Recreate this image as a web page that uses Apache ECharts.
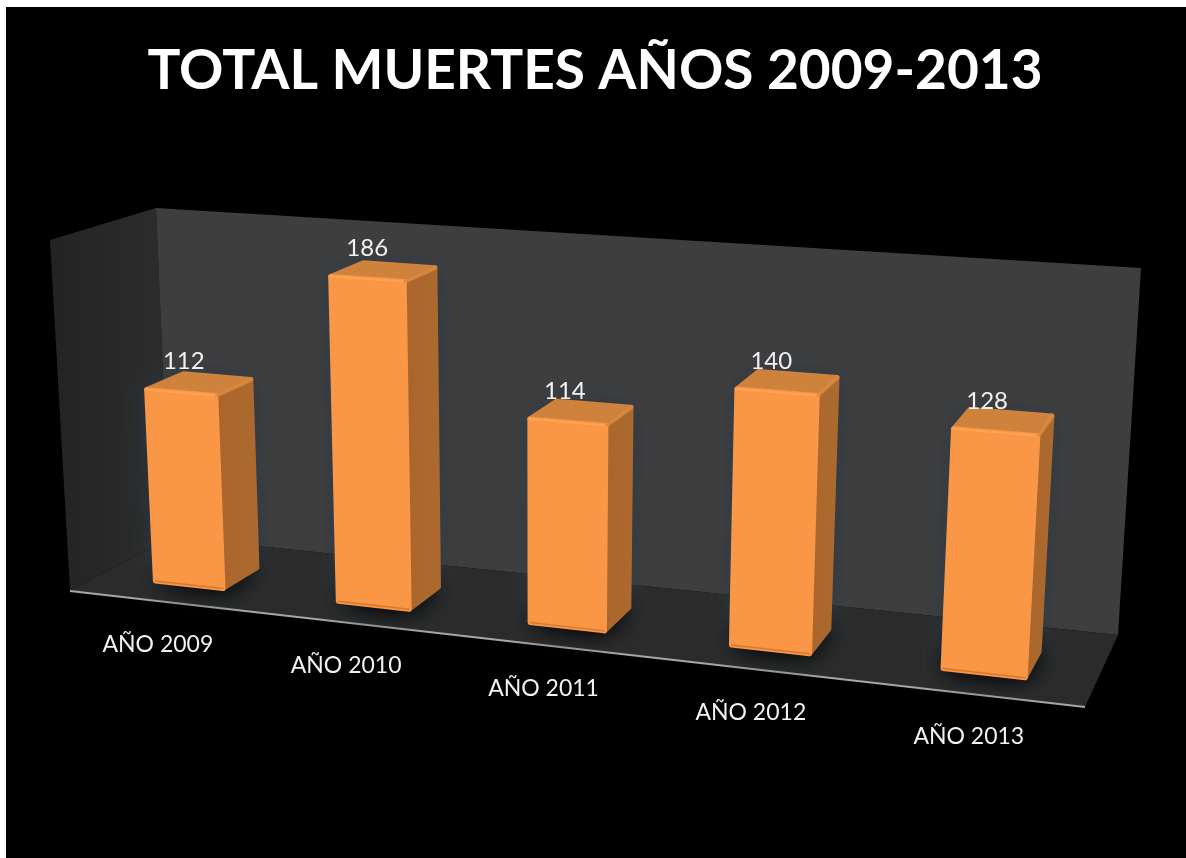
<!DOCTYPE html>
<html>
<head>
<meta charset="utf-8">
<title>Total muertes</title>
<script src="https://cdn.jsdelivr.net/npm/echarts@6/dist/echarts.min.js"></script>
<style>
    html, body { margin: 0; background: #fff; }
    #plate { position: absolute; left: 6px; top: 7px; right: 0; bottom: 0; width: 1180px; height: 851px; background: #000; }
    #chart { position: absolute; left: 0; top: 0; width: 1186px; height: 858px; }
</style>
</head>
<body>
<div id="plate"></div>
<div id="chart"></div>
<script>
const titleText = 'TOTAL MUERTES AÑOS 2009-2013';
const categories = ['AÑO 2009', 'AÑO 2010', 'AÑO 2011', 'AÑO 2012', 'AÑO 2013'];
const deaths = [112, 186, 114, 140, 128];
const axisMax = 203;

const fontFamily = 'Lato, "Open Sans", sans-serif';

// corners of the drawn box, [x, y] on the page. F = front, B = back, B/T = bottom/top
const box = {
    fbl: [70, 591], fbr: [1085, 707], ftl: [50, 240], ftr: [1108, 312],
    bbl: [170, 537], bbr: [1118, 635], btl: [156, 208], btr: [1141, 268]
};
const perspective = 1.13;   // how much the far left is squeezed
const barBand = 0.375;      // bar width as part of the category band
const barFront = 0.3, barBack = 0.67;   // depth of the bars inside the box

function mix(a, b, t) {
    return [a[0] + (b[0] - a[0]) * t, a[1] + (b[1] - a[1]) * t];
}
// u along the categories, v up the value axis, w into the depth, all 0..1
function project(u, v, w) {
    const s = u / (u + perspective * (1 - u));
    const front = mix(mix(box.fbl, box.fbr, s), mix(box.ftl, box.ftr, s), v);
    const back = mix(mix(box.bbl, box.bbr, s), mix(box.btl, box.btr, s), v);
    return mix(front, back, w);
}

function renderWalls() {
    const quad = function (pts, fill) {
        return { type: 'polygon', shape: { points: pts }, style: { fill: fill } };
    };
    return {
        type: 'group',
        children: [
            quad([project(0, 0, 0), project(0, 1, 0), project(0, 1, 1), project(0, 0, 1)],
                new echarts.graphic.LinearGradient(0, 0, 1, 0, [
                    { offset: 0, color: '#232323' }, { offset: 1, color: '#2d2d2d' }
                ])),
            quad([project(0, 0, 1), project(0, 1, 1), project(1, 1, 1), project(1, 0, 1)], '#3e3e3e'),
            quad([project(0, 0, 0), project(0, 0, 1), project(1, 0, 1), project(1, 0, 0)], '#2b2b2b'),
            {
                type: 'line',
                shape: { x1: box.fbl[0], y1: box.fbl[1], x2: box.fbr[0], y2: box.fbr[1] },
                style: { stroke: '#a6a6a6', lineWidth: 2 }
            }
        ]
    };
}

function renderBar(params, api) {
    const grid = params.coordSys;
    const i = api.value(0);
    const value = api.value(1);
    const pos = api.coord([i, value]);
    const u = (pos[0] - grid.x) / grid.width;
    const v = (grid.y + grid.height - pos[1]) / grid.height;
    const half = api.size([1, 0])[0] / grid.width * barBand / 2;

    const fl = project(u - half, 0, barFront), fr = project(u + half, 0, barFront);
    const br = project(u + half, 0, barBack), bl = project(u - half, 0, barBack);
    const ftl = project(u - half, v, barFront), ftr = project(u + half, v, barFront);
    const btr = project(u + half, v, barBack), btl = project(u - half, v, barBack);

    const face = function (pts, fill) {
        return {
            type: 'polygon',
            shape: { points: pts },
            style: { fill: fill, stroke: fill, lineWidth: 5, lineJoin: 'round' }
        };
    };
    const edge = function (a, b, color, width) {
        return {
            type: 'line',
            shape: { x1: a[0], y1: a[1], x2: b[0], y2: b[1] },
            style: { stroke: color, lineWidth: width, lineCap: 'round' }
        };
    };
    const floorShadow = function () {
        return {
            type: 'polygon',
            shape: { points: [fl, bl, br, fr] },
            style: { fill: '#000', shadowBlur: 26, shadowColor: '#000' }
        };
    };
    const topCenter = mix(ftl, ftr, 0.5);
    const baseCenter = project(u, 0, 0);

    return {
        type: 'group',
        children: [
            // soft halo on the wall
            {
                type: 'polygon',
                shape: { points: [fl, ftl, btl, btr, br, fr] },
                style: { fill: '#33383c', shadowBlur: 22, shadowColor: 'rgba(40,56,72,1)' }
            },
            floorShadow(),
            floorShadow(),
            face([fr, ftr, btr, br], new echarts.graphic.LinearGradient(0, 0, 1, 0, [
                { offset: 0, color: '#a9652c' }, { offset: 1, color: '#ad6a2e' }
            ])),
            face([ftl, btl, btr, ftr], '#cf823c'),
            face([fl, ftl, ftr, fr], '#f99746'),
            edge(ftl, ftr, '#fda355', 2),
            edge(ftr, btr, '#d98a42', 2),
            edge(fl, fr, '#d9782c', 1.5),
            {
                type: 'text',
                style: {
                    text: String(value),
                    x: topCenter[0] + 4 - 14 * u,
                    y: topCenter[1] - 31,
                    fill: '#f2f2f2',
                    fontFamily: fontFamily,
                    fontSize: 24,
                    textAlign: 'center',
                    textVerticalAlign: 'middle'
                }
            },
            {
                type: 'text',
                style: {
                    text: categories[i],
                    x: baseCenter[0] - 3,
                    y: baseCenter[1] + 43,
                    fill: '#f2f2f2',
                    fontFamily: fontFamily,
                    fontSize: 23,
                    textAlign: 'center',
                    textVerticalAlign: 'middle'
                }
            }
        ]
    };
}

const chart = echarts.init(document.getElementById('chart'));
chart.setOption({
    animation: false,
    title: {
        text: titleText,
        left: 590,
        top: 39,
        textAlign: 'center',
        textStyle: { color: '#fff', fontFamily: fontFamily, fontWeight: 700, fontSize: 55 }
    },
    grid: { left: 0, right: 0, top: 0, bottom: 0 },
    xAxis: { type: 'category', data: categories, show: false },
    yAxis: { type: 'value', min: 0, max: axisMax, show: false },
    series: [
        {
            type: 'custom',
            silent: true,
            data: [0],
            renderItem: renderWalls
        },
        {
            type: 'custom',
            silent: true,
            encode: { x: 0, y: 1 },
            data: deaths.map(function (d, i) { return [i, d]; }),
            renderItem: renderBar
        }
    ]
});
</script>
</body>
</html>
